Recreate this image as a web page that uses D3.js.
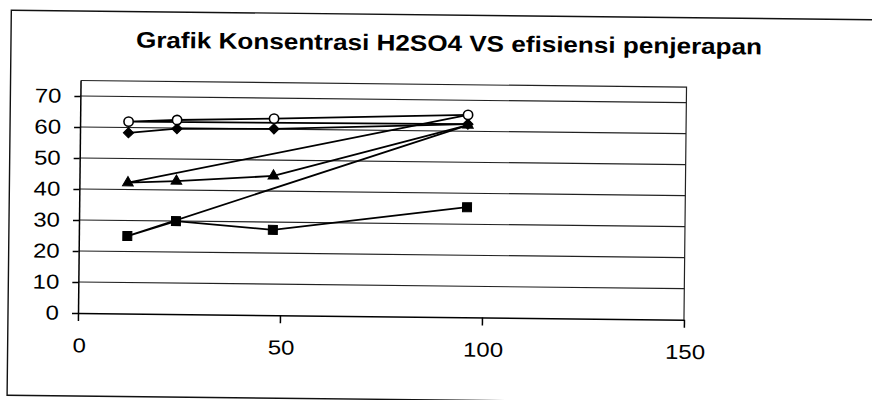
<!DOCTYPE html>
<html>
<head>
<meta charset="utf-8">
<script src="https://cdn.jsdelivr.net/npm/d3@7"></script>
<style>
  body { margin: 0; background: #fff; }
  svg { display: block; font-family: "Liberation Sans", Arial, sans-serif; }
</style>
</head>
<body>
<script>
// H2SO4 concentration (x values, same for every series)
var conc = [12, 24, 48, 96];

// adsorption efficiency per series
var diamondVals  = [58.3, 59.8, 60.1, 62.3];
var circleVals   = [61.9, 62.6, 63.4, 65.3];
var triangleVals = [42.2, 42.9, 44.9, 62.0];
var squareVals   = [25.0, 30.0, 27.5, 35.5];

var yTicks = [0, 10, 20, 30, 40, 50, 60, 70];
var xTicks = [0, 50, 100, 150];
var title = "Grafik Konsentrasi H2SO4 VS efisiensi penjerapan";

var W = 872, H = 400;
var plotL = 78, plotR = 684, plotT = 80.5, plotB = 313;

var svg = d3.select("body").append("svg")
  .attr("width", W)
  .attr("height", H);

// the scan is a little crooked, so the whole chart is turned a bit
var g = svg.append("g")
  .attr("transform", "rotate(0.63," + plotL + "," + plotB + ")");

// outer chart border
g.append("rect")
  .attr("x", 8).attr("y", 11)
  .attr("width", 900).attr("height", 385)
  .attr("fill", "none")
  .attr("stroke", "#111")
  .attr("stroke-width", 1.4);

g.append("text")
  .attr("x", 133).attr("y", 47)
  .attr("textLength", 626)
  .attr("lengthAdjust", "spacingAndGlyphs")
  .style("font-size", "22.5px")
  .style("font-weight", "bold")
  .text(title);

var x = d3.scaleLinear().domain([0, 150]).range([plotL, plotR]);
var y = d3.scaleLinear().domain([0, 75]).range([plotB, plotT]);

// plot area border (top + right)
g.append("path")
  .attr("d", "M" + plotL + "," + y(75) + "H" + x(150) + "V" + y(0))
  .attr("fill", "none")
  .attr("stroke", "#222")
  .attr("stroke-width", 1.2);

// gridlines
g.selectAll(".grid")
  .data(yTicks.filter(function(d) { return d > 0; }))
  .enter().append("line")
  .attr("class", "grid")
  .attr("x1", plotL).attr("x2", plotR)
  .attr("y1", function(d) { return y(d); })
  .attr("y2", function(d) { return y(d); })
  .attr("stroke", "#222")
  .attr("stroke-width", 1.2);

var yAxis = g.append("g")
  .attr("transform", "translate(" + plotL + ",0)")
  .call(d3.axisLeft(y).tickValues(yTicks).tickSize(6).tickSizeOuter(0).tickPadding(12));

var xAxis = g.append("g")
  .attr("transform", "translate(0," + plotB + ")")
  .call(d3.axisBottom(x).tickValues(xTicks).tickSize(8).tickSizeOuter(0).tickPadding(17));

[yAxis, xAxis].forEach(function(a) {
  a.selectAll("path, line").attr("stroke", "#000").attr("stroke-width", 1.5);
  a.selectAll("text")
    .attr("fill", "#000")
    .style("font-size", "20px")
    .style("font-family", "'Liberation Sans', Arial, sans-serif");
});

// stretch the tick labels sideways like in the scan
yAxis.selectAll("text")
  .attr("transform", "translate(-19,0) scale(1.2,1)")
  .attr("x", 0);
xAxis.selectAll("text")
  .attr("transform", "translate(1,25) scale(1.2,1)")
  .attr("y", 0);

// series; each one after the first starts from the previous series' last value at 96
var series = [
  {values: diamondVals,  symbol: "diamond",  lead: null},
  {values: circleVals,   symbol: "circle",   lead: diamondVals},
  {values: triangleVals, symbol: "triangle", lead: circleVals},
  {values: squareVals,   symbol: "square",   lead: triangleVals}
];

series.forEach(function(s) {
  s.points = conc.map(function(c, i) { return {x: c, y: s.values[i]}; });
  s.line = s.lead
    ? [{x: conc[conc.length - 1], y: s.lead[s.lead.length - 1]}].concat(s.points)
    : s.points;
});

var line = d3.line()
  .x(function(d) { return x(d.x); })
  .y(function(d) { return y(d.y); });

g.selectAll(".series")
  .data(series)
  .enter().append("path")
  .attr("class", "series")
  .attr("d", function(s) { return line(s.line); })
  .attr("fill", "none")
  .attr("stroke", "#000")
  .attr("stroke-width", 1.8)
  .attr("stroke-linejoin", "round");

var shapes = {
  circle:   {path: d3.symbol(d3.symbolCircle, 68)(),   fill: "#fff", rot: 0},
  square:   {path: d3.symbol(d3.symbolSquare, 81)(),   fill: "#000", rot: 0},
  diamond:  {path: d3.symbol(d3.symbolSquare, 52)(),   fill: "#000", rot: 45},
  triangle: {path: d3.symbol(d3.symbolTriangle, 50)(), fill: "#000", rot: 0}
};

// markers, drawn so the diamond sits on top of the hidden triangle at 96
var markerOrder = ["square", "triangle", "diamond", "circle"];
markerOrder.forEach(function(name) {
  var s = series.find(function(d) { return d.symbol === name; });
  var sh = shapes[name];
  g.selectAll(".m-" + name)
    .data(s.points)
    .enter().append("path")
    .attr("class", "m-" + name)
    .attr("d", sh.path)
    .attr("transform", function(d) {
      return "translate(" + x(d.x) + "," + y(d.y) + ") rotate(" + sh.rot + ")";
    })
    .attr("fill", sh.fill)
    .attr("stroke", "#000")
    .attr("stroke-width", name === "circle" ? 1.6 : 1);
});
</script>
</body>
</html>
